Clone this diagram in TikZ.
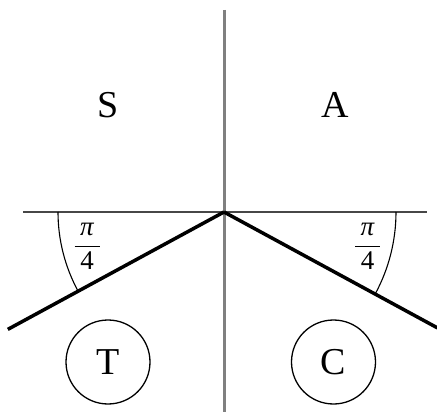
\documentclass[tikz,border=0pt]{standalone}
\usepackage{fontspec}
\setmainfont{Liberation Serif}
\begin{document}
\begin{tikzpicture}[x=1pt,y=-1pt,
  axis/.style={draw=black!50,line width=3pt},
  hline/.style={draw=black!72,line width=2pt},
  bound/.style={draw=black,line width=3.5pt},
  anglearc/.style={draw=black,line width=1.1pt},
  lab/.style={font=\fontsize{38}{40}\selectfont,inner sep=0pt},
  frac/.style={font=\fontsize{27}{30}\selectfont,inner sep=0pt},
  state/.style={circle,draw=black,line width=1.3pt,minimum size=84pt,inner sep=0pt,font=\fontsize{38}{40}\selectfont}]
\useasboundingbox (0,0) rectangle (437,412);
\coordinate (O) at (224,212);
\coordinate (top) at (224,10);
\coordinate (bot) at (224,412);
\coordinate (hl) at (23,212);
\coordinate (hr) at (427,212);
\draw[axis] (top) -- (bot);
\draw[hline] (hl) -- (hr);
\draw[bound] (O) -- ++(151.5:246) coordinate (lend);
\draw[bound] (O) -- ++(28.5:243) coordinate (rend);
\draw[anglearc] (O) ++(180:166) arc[start angle=180,end angle=151.5,radius=166];
\draw[anglearc] (O) ++(0:172) arc[start angle=0,end angle=28.5,radius=172];
\node[lab] (S) at (108,105) {S};
\node[lab] (A) at (335,105) {A};
\node[frac] (f1) at (87,246) {$\displaystyle\frac{\hbox to 25pt{\hfil\itshape π\hfil}}{\hbox{4}}$};
\node[frac] (f2) at (367.5,246) {$\displaystyle\frac{\hbox to 25pt{\hfil\itshape π\hfil}}{\hbox{4}}$};
\node[state] (T) at (108,362) {T};
\node[state] (C) at (333.5,362) {C};
\end{tikzpicture}
\end{document}
